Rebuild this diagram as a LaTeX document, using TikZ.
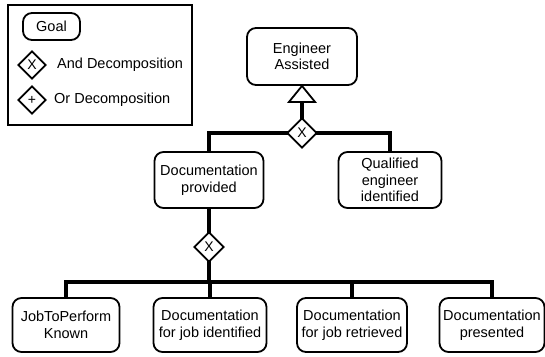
\documentclass[tikz,border=0pt]{standalone}
\usepackage{fontspec}
\setmainfont{Liberation Sans}
\usetikzlibrary{shapes.geometric,calc}
\begin{document}
\begin{tikzpicture}[x=1pt,y=-1pt,
  txt/.style={font=\fontsize{14.5}{16.5}\selectfont},
  goal/.style={txt, draw, line width=1.8pt, rounded corners=9pt, fill=white,
    align=center, inner sep=0pt},
  gate/.style={draw, diamond, aspect=1, line width=1.8pt, fill=white,
    inner sep=0pt, minimum width=30pt, minimum height=30pt,
    font=\fontsize{14}{14}\selectfont},
  conn/.style={line width=3.5pt, line join=miter}]
\useasboundingbox[fill=white] (0,0) rectangle (545,356);

% legend
\draw[line width=1.8pt] (8,5) rectangle (192,125);
\node[goal, minimum width=57pt, minimum height=27pt] (lgoal) at (51.5,26.5) {Goal};
\node[gate, minimum width=28pt, minimum height=28pt] (land) at (32,65) {X};
\node[gate, minimum width=28pt, minimum height=28pt] (lor) at (32,100) {+};
\node[txt, anchor=west, inner sep=0pt] (landt) at (57,65) {And Decomposition};
\node[txt, anchor=west, inner sep=0pt] (lort) at (54,100) {Or Decomposition};

% goals
\node[goal, minimum width=110pt, minimum height=57pt] (ea) at (302,56.5) {Engineer\\Assisted};
\node[goal, minimum width=109pt, minimum height=56pt] (dp) at (209,180) {Documentation\\provided};
\node[goal, minimum width=103pt, minimum height=56pt] (qe) at (390,180) {Qualified\\engineer\\identified};
\node[goal, minimum width=107pt, minimum height=54pt] (jp) at (66,325) {JobToPerform\\Known};
\node[goal, minimum width=113pt, minimum height=54pt] (di) at (210,325) {Documentation\\for job identified};
\node[goal, minimum width=110pt, minimum height=54pt] (dr) at (352,325) {Documentation\\for job retrieved};
\node[goal, minimum width=105pt, minimum height=54pt] (dpr) at (492,325) {Documentation\\presented};

% decompositions
\coordinate (tribase) at ($(ea.south)+(0,16)$);
\coordinate (bar) at (209,282);
\draw[conn] (302,133) -| (dp.north);
\draw[conn] (302,133) -| (qe.north);
\draw[conn] (302,133) -- (tribase);
\draw[line width=1.8pt, fill=white, line join=miter] (ea.south) -- ($(tribase)+(13,0)$) -- ($(tribase)+(-13,0)$) -- cycle;
\node[gate] (d1) at (302,133) {X};

\draw[conn] (dp.south) -- (bar);
\draw[conn] (bar) -| (jp.north);
\draw[conn] (bar) -| (di.north);
\draw[conn] (bar) -| (dr.north);
\draw[conn] (bar) -| (dpr.north);
\node[gate] (d2) at (209,247) {X};
\end{tikzpicture}
\end{document}
